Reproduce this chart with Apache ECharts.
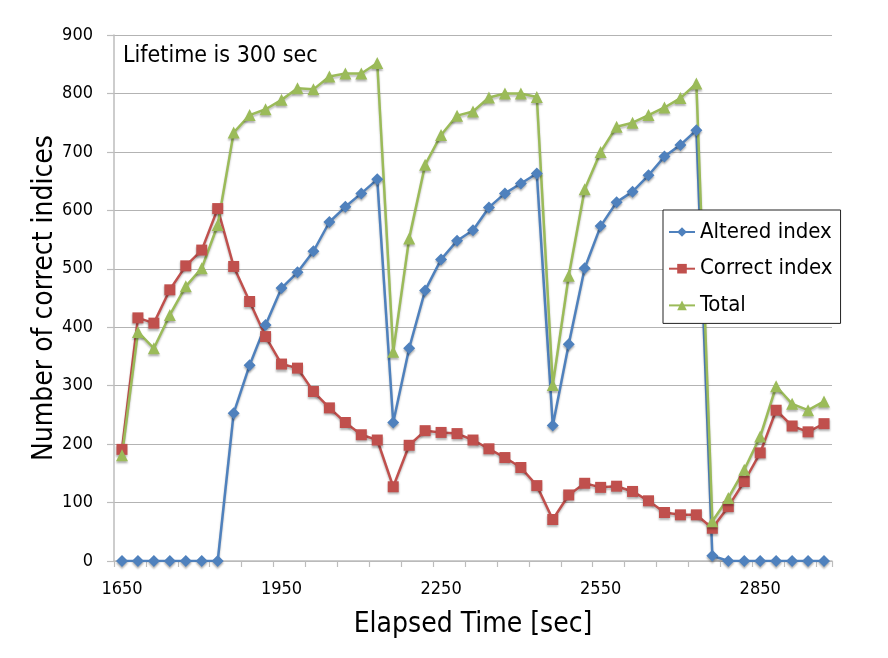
<!DOCTYPE html>
<html>
<head>
<meta charset="utf-8">
<script src="https://cdn.jsdelivr.net/npm/echarts@6/dist/echarts.min.js"></script>
<style>
html,body{margin:0;padding:0;background:#fff;}
#chart{width:888px;height:658px;}
</style>
</head>
<body>
<div id="chart"></div>
<script>
var categories = ['1650','1680','1710','1740','1770','1800','1830','1860','1890','1920',
  '1950','1980','2010','2040','2070','2100','2130','2160','2190','2220',
  '2250','2280','2310','2340','2370','2400','2430','2460','2490','2520',
  '2550','2580','2610','2640','2670','2700','2730','2760','2790','2820',
  '2850','2880','2910','2940','2970'];
var altered = [0,0,0,0,0,0,0,253,335,404,467,494,530,580,606,629,653,237,364,463,516,548,566,605,629,646,663,232,371,501,573,614,632,660,692,712,737,9,0,0,0,0,0,0,0];
var correct = [191,416,407,464,505,532,603,504,444,384,337,330,290,262,237,216,207,127,198,223,220,218,207,192,177,160,129,71,113,133,126,128,119,103,83,79,79,56,93,136,185,258,231,221,235];
var total = [181,392,364,421,470,501,575,733,763,773,789,809,807,829,834,834,852,358,552,678,729,762,769,793,800,800,794,301,488,636,700,743,750,763,776,792,817,68,108,156,213,299,269,258,273];
var seriesNames = ['Altered index','Correct index','Total'];
var colors = ['#4F81BD','#C0504D','#9BBB59'];
var yTicks = {min:0, max:900, interval:100};

var FONT = 'DejaVu Sans Condensed';
var chart = echarts.init(document.getElementById('chart'), null, {renderer:'canvas'});
function mk(name, data, color, symbol, size){
  return {
    name: name, type:'line', data: data, symbol: symbol, symbolSize: size,
    showAllSymbol: true,
    lineStyle:{color:color, width:2.5, shadowColor:'rgba(0,0,0,0.25)', shadowBlur:2, shadowOffsetY:2},
    itemStyle:{color:color, shadowColor:'rgba(0,0,0,0.3)', shadowBlur:2, shadowOffsetY:2},
    emphasis:{disabled:true}, animation:false
  };
}
chart.setOption({
  animation:false,
  color: colors,
  textStyle:{fontFamily:FONT},
  grid:{show:false, left:114, right:56, top:35, bottom:97, containLabel:false},
  graphic:[{type:'text', left:123, top:45, style:{text:'Lifetime is 300 sec', fontFamily:FONT, fontSize:23, fill:'#000'}}],
  legend:{
    orient:'vertical', left:663, top:210,
    padding:[11,8,7,5], itemGap:14.7, itemWidth:26, itemHeight:12,
    backgroundColor:'#fff', borderColor:'#222', borderWidth:1,
    textStyle:{fontFamily:FONT, fontSize:22, color:'#000', lineHeight:22},
    data: seriesNames
  },
  xAxis:{
    type:'category', data:categories, boundaryGap:true,
    name:'Elapsed Time [sec]', nameLocation:'middle', nameGap:50, nameMoveOverlap:false,
    nameTextStyle:{fontFamily:FONT, fontSize:28, color:'#000'},
    axisLine:{lineStyle:{color:'#bdbdbd', width:1.5}},
    axisTick:{show:true, interval:1, length:6, lineStyle:{color:'#bdbdbd', width:1.2}},
    axisLabel:{interval:9, margin:19, fontFamily:FONT, fontSize:18, color:'#000'},
    splitLine:{show:false},
    splitArea:{show:false}
  },
  yAxis:{
    type:'value', min:yTicks.min, max:yTicks.max, interval:yTicks.interval,
    name:'Number of correct indices', nameLocation:'middle', nameGap:55, nameRotate:90,
    nameMoveOverlap:false,
    nameTextStyle:{fontFamily:FONT, fontSize:28, color:'#000'},
    axisLine:{show:true, lineStyle:{color:'#bdbdbd', width:1.5}},
    axisTick:{show:true, length:7, lineStyle:{color:'#bdbdbd', width:1.2}},
    axisLabel:{margin:21, fontFamily:FONT, fontSize:18, color:'#000'},
    splitLine:{lineStyle:{color:'#b3b3b3', width:1.2}}
  },
  series:[
    mk(seriesNames[0], altered, colors[0], 'diamond', 12),
    mk(seriesNames[1], correct, colors[1], 'rect', 11),
    mk(seriesNames[2], total, colors[2], 'triangle', 12)
  ]
});
</script>
</body>
</html>
